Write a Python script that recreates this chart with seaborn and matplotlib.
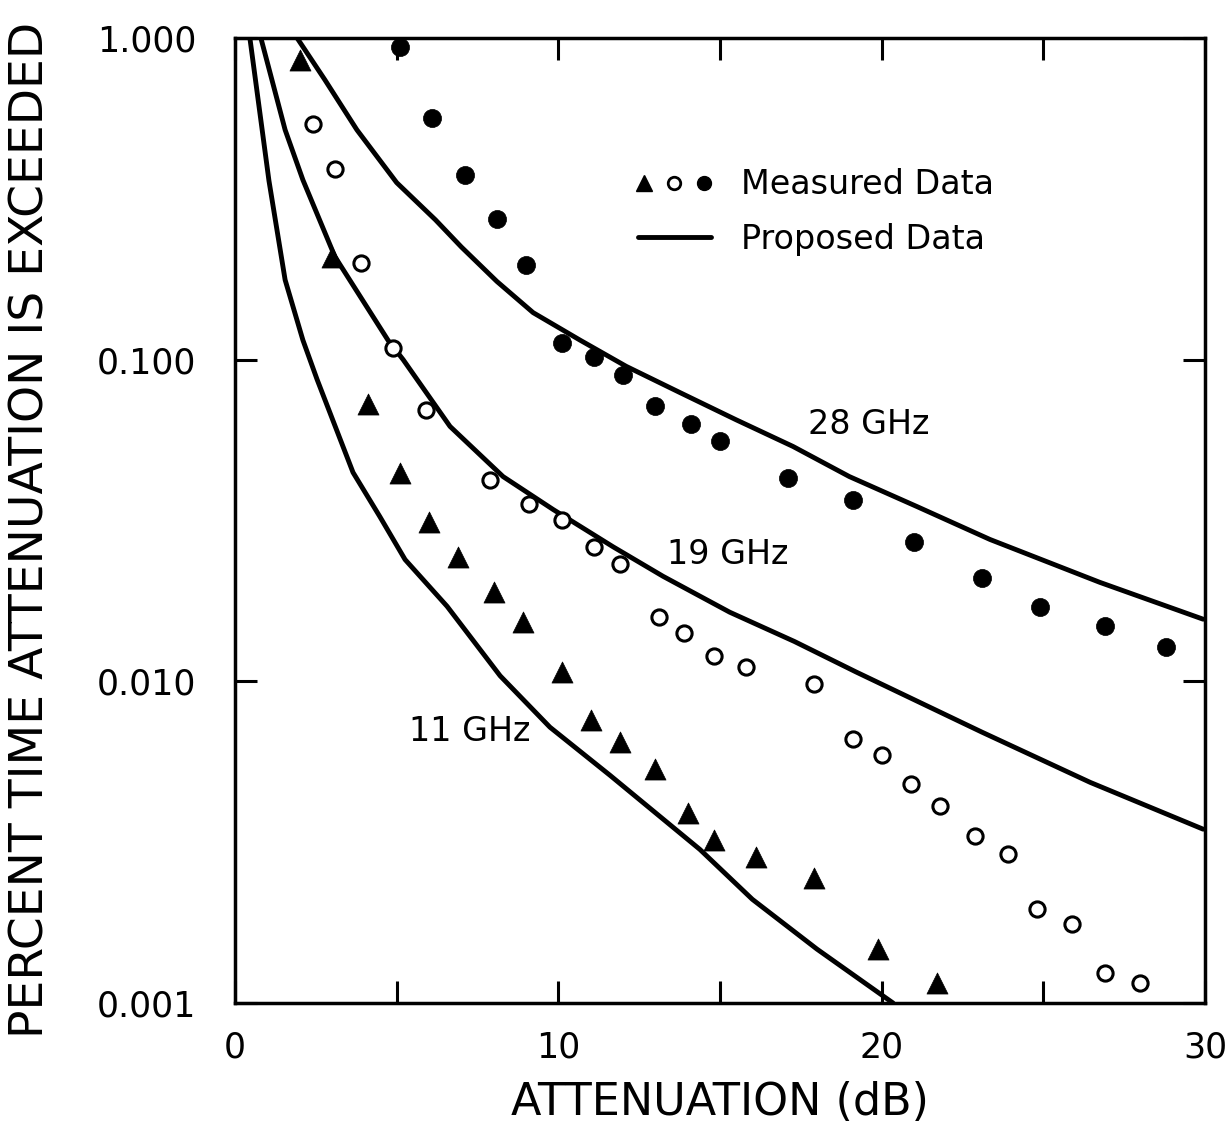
import matplotlib.pyplot as plt
import seaborn as sns
from matplotlib.legend_handler import HandlerTuple
from matplotlib.lines import Line2D
from matplotlib.ticker import FixedLocator, FixedFormatter, NullLocator

# Measured data: triangles = 11 GHz, open circles = 19 GHz, filled circles = 28 GHz
x_meas_11 = [2.0, 3.0, 4.1, 5.1, 6.0, 6.9, 8.0, 8.9, 10.1, 11.0, 11.9, 13.0, 14.0, 14.8, 16.1, 17.9, 19.9, 21.7]
y_meas_11 = [0.855, 0.209, 0.073, 0.0443, 0.0312, 0.0244, 0.019, 0.0153, 0.0107, 0.0076, 0.00646,
             0.00533, 0.0039, 0.0032, 0.00284, 0.00244, 0.00147, 0.00115]

x_meas_19 = [2.4, 3.1, 3.9, 4.9, 5.9, 7.9, 9.1, 10.1, 11.1, 11.9, 13.1, 13.9, 14.8, 15.8, 17.9,
             19.1, 20.0, 20.9, 21.8, 22.9, 23.9, 24.8, 25.9, 26.9, 28.0]
y_meas_19 = [0.541, 0.392, 0.2, 0.109, 0.0695, 0.0421, 0.0355, 0.0318, 0.0261, 0.0232, 0.0159,
             0.0141, 0.012, 0.0111, 0.0098, 0.0066, 0.0059, 0.0048, 0.0041, 0.0033, 0.0029,
             0.00196, 0.00176, 0.00124, 0.00115]

x_meas_28 = [5.1, 6.1, 7.1, 8.1, 9.0, 10.1, 11.1, 12.0, 13.0, 14.1, 15.0, 17.1, 19.1, 21.0, 23.1, 24.9, 26.9, 28.8]
y_meas_28 = [0.938, 0.565, 0.375, 0.274, 0.197, 0.113, 0.102, 0.0898, 0.072, 0.0633, 0.056,
             0.043, 0.0367, 0.0272, 0.021, 0.017, 0.0149, 0.0128]

# Proposed (model) curves
x_prop_11 = [0.46, 0.84, 1.05, 1.55, 2.1, 2.54, 3.65, 4.48, 5.26, 6.56, 8.2, 9.74, 11.6, 14.38, 16.0, 18.0, 20.35]
y_prop_11 = [1.0, 0.518, 0.36, 0.177, 0.115, 0.0867, 0.0446, 0.0325, 0.0239, 0.0171, 0.0104,
             0.0072, 0.0051, 0.0030, 0.0021, 0.00147, 0.001]

x_prop_19 = [0.80, 1.55, 2.1, 3.09, 4.73, 5.2, 6.65, 8.29, 9.84, 11.69, 13.24, 15.3, 17.3, 19.2,
             23.1, 26.45, 29.94]
y_prop_19 = [1.0, 0.518, 0.362, 0.209, 0.115, 0.1, 0.062, 0.0433, 0.0342, 0.0262, 0.0212, 0.0164,
             0.0133, 0.0107, 0.00695, 0.00485, 0.00347]

x_prop_28 = [1.92, 2.78, 3.77, 5.0, 6.2, 7.0, 8.1, 9.22, 10.67, 12.1, 13.76, 15.5, 17.26, 19.0,
             21.1, 23.35, 26.75, 29.94]
y_prop_28 = [1.0, 0.741, 0.518, 0.355, 0.272, 0.224, 0.175, 0.14, 0.115, 0.0953, 0.079, 0.065,
             0.0537, 0.0433, 0.0349, 0.0276, 0.0203, 0.0156]

y_ticks = [0.001, 0.01, 0.1, 1.0]
y_tick_labels = ['0.001', '0.010', '0.100', '1.000']
x_ticks = [0, 5, 10, 15, 20, 25, 30]
x_tick_labels = ['0', '', '10', '', '20', '', '30']

curve_labels = ['28 GHz', '19 GHz', '11 GHz']
curve_label_pos = [(19.6, 0.0628), (15.25, 0.0248), (7.27, 0.0070)]

sns.set_style('ticks')
plt.rcParams['font.family'] = ['DejaVu Sans']
plt.rcParams['text.color'] = 'black'
plt.rcParams['axes.labelcolor'] = 'black'
plt.rcParams['xtick.color'] = 'black'
plt.rcParams['ytick.color'] = 'black'

fig = plt.figure(figsize=(12.31, 11.4), dpi=100)
ax = fig.add_axes([0.1909, 0.1202, 0.788, 0.8465])

for xs, ys in [(x_prop_11, y_prop_11), (x_prop_19, y_prop_19), (x_prop_28, y_prop_28)]:
    sns.lineplot(x=xs, y=ys, ax=ax, color='black', lw=3.5, sort=False, estimator=None)

sns.scatterplot(x=x_meas_11, y=y_meas_11, ax=ax, marker='^', s=230, color='black',
                edgecolor='black', linewidth=0.5, zorder=3)
sns.scatterplot(x=x_meas_19, y=y_meas_19, ax=ax, marker='o', s=120, facecolor='white',
                edgecolor='black', linewidth=2.2, zorder=3)
sns.scatterplot(x=x_meas_28, y=y_meas_28, ax=ax, marker='o', s=170, color='black',
                edgecolor='black', linewidth=0.5, zorder=3)

ax.set_yscale('log')
ax.set_xlim(0, 30)
ax.set_ylim(0.001, 1.0)

ax.yaxis.set_major_locator(FixedLocator(y_ticks))
ax.yaxis.set_major_formatter(FixedFormatter(y_tick_labels))
ax.yaxis.set_minor_locator(NullLocator())
ax.xaxis.set_major_locator(FixedLocator(x_ticks))
ax.xaxis.set_major_formatter(FixedFormatter(x_tick_labels))

ax.tick_params(axis='both', which='major', direction='in', length=16, width=2.2,
               top=True, right=True, labelsize=25, color='black', labelcolor='black')
ax.tick_params(axis='x', pad=20)
ax.tick_params(axis='y', pad=28)
for side in ['left', 'right', 'top', 'bottom']:
    ax.spines[side].set_visible(True)
    ax.spines[side].set_linewidth(2.5)
    ax.spines[side].set_color('black')

ax.set_xlabel('ATTENUATION (dB)', fontsize=32, labelpad=12)
ax.set_ylabel('PERCENT TIME ATTENUATION IS EXCEEDED', fontsize=34)
ax.yaxis.set_label_coords(-0.187, 0.49)

for label, (lx, ly) in zip(curve_labels, curve_label_pos):
    ax.text(lx, ly, label, fontsize=24, ha='center', va='center')

tri = Line2D([], [], marker='^', ls='none', color='black', ms=11)
opn = Line2D([], [], marker='o', ls='none', mfc='white', mec='black', ms=9, mew=2)
fil = Line2D([], [], marker='o', ls='none', color='black', ms=10)
prop = Line2D([], [], color='black', lw=3.5)
ax.legend([(tri, opn, fil), prop], ['Measured Data', 'Proposed Data'],
          handler_map={tuple: HandlerTuple(ndivide=None, pad=0.5)},
          frameon=False, fontsize=24, handlelength=2.2, handletextpad=0.9,
          labelspacing=0.65, loc='upper left', bbox_to_anchor=(0.415, 0.865),
          borderpad=0, borderaxespad=0)

fig.savefig('out.png', dpi=100)
